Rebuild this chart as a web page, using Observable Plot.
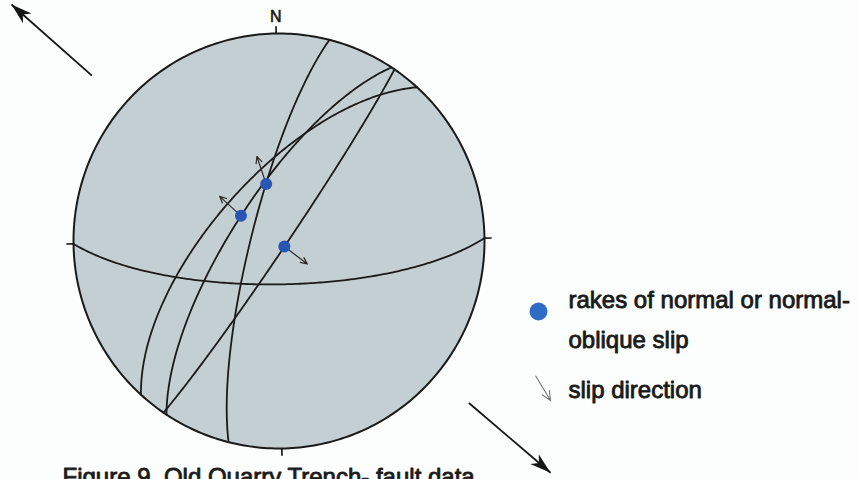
<!DOCTYPE html>
<html>
<head>
<meta charset="utf-8">
<script src="https://cdn.jsdelivr.net/npm/d3@7"></script>
<script src="https://cdn.jsdelivr.net/npm/@observablehq/plot@0.6"></script>
<style>
  html, body { margin: 0; padding: 0; background: #fcfdfd; }
  #chart svg { display: block; }
</style>
</head>
<body>
<div id="chart"></div>
<script>
// Fault planes: dip direction and dip (degrees)
const planeNames = ["A", "B", "C", "D", "E"];
const planeDipDirections = [180, 313, 304, 125, 285];
const planeDips = [73, 65, 72, 87, 79];

// Rakes of normal / normal-oblique slip, as lineations (trend / plunge)
const rakeTrends = [348, 304, 136];
const rakePlunges = [67, 72, 87];
// Slip direction shown at each rake (azimuth)
const slipAzimuths = [342, 313, 128];

// Regional extension direction (azimuths)
const extensionAzimuths = [312, 131];

const cardinalAzimuths = [0, 90, 180, 270];
const northLabel = "N";
const legendLabels = ["rakes of normal or normal-", "oblique slip", "slip direction"];
const captionText = "Figure 9. Old Quarry Trench- fault data";

// --- lower-hemisphere equal-area net -------------------------------------
const rad = Math.PI / 180;
const netRotation = -0.8; // the net is printed turned slightly anticlockwise

function polar(az, k) {
  const a = (az + netRotation) * rad;
  return [k * Math.sin(a), k * Math.cos(a)];
}
function project(trend, plunge) {
  return polar(trend, Math.SQRT2 * Math.sin(((90 - plunge) / 2) * rad));
}
function greatCircle(dd, dip) {
  const s = [Math.cos((dd - 90) * rad), Math.sin((dd - 90) * rad), 0];
  const d = [Math.cos(dip * rad) * Math.cos(dd * rad), Math.cos(dip * rad) * Math.sin(dd * rad), Math.sin(dip * rad)];
  const pts = [];
  for (let a = 0; a <= 180; a += 1) {
    const c = Math.cos(a * rad), sn = Math.sin(a * rad);
    const w = [c * s[0] + sn * d[0], c * s[1] + sn * d[1], Math.max(0, c * s[2] + sn * d[2])];
    const plunge = Math.asin(Math.min(1, w[2])) / rad;
    const trend = Math.atan2(w[1], w[0]) / rad;
    pts.push(project(trend, plunge));
  }
  return pts;
}

const primitive = d3.range(0, 361, 1).map(az => { const [u, v] = polar(az, 1); return {u, v}; });

const arcs = planeNames.flatMap((name, i) =>
  greatCircle(planeDipDirections[i], planeDips[i]).map(([u, v]) => ({plane: name, u, v})));

const ticks = cardinalAzimuths.map(az => {
  const [u1, v1] = polar(az, 1), [u2, v2] = polar(az, 1.035);
  return {u1, v1, u2, v2};
});

// each slip arrow starts a little behind its rake point
const slipLength = 0.14, slipTail = 0.02;
const rakes = rakeTrends.map((t, i) => {
  const [u, v] = project(t, rakePlunges[i]);
  const [du, dv] = polar(slipAzimuths[i], 1);
  return {u, v, u1: u - slipTail * du, v1: v - slipTail * dv, u2: u + slipLength * du, v2: v + slipLength * dv};
});

const extension = extensionAzimuths.map(az => {
  const [u1, v1] = polar(az, 1.21), [u2, v2] = polar(az, 1.73);
  return {u1, v1, u2, v2, angle: az + netRotation};
});

const [nu, nv] = polar(0, 1.082);

// filled, barbed arrowhead with its tip at the symbol origin, pointing up
const arrowHead = {
  draw(ctx, size) {
    const r = Math.sqrt(size / Math.PI), L = 2 * r, w = 0.62 * r;
    ctx.moveTo(0, 0); ctx.lineTo(w, L); ctx.lineTo(0, 0.72 * L); ctx.lineTo(-w, L); ctx.closePath();
  }
};
// open slip arrow with its tip at the symbol origin, pointing up
const slipGlyph = {
  draw(ctx, size) {
    const r = Math.sqrt(size / Math.PI), L = 2 * r;
    ctx.moveTo(0, L); ctx.lineTo(0, 0);
    ctx.moveTo(-0.3 * r, 0.65 * r); ctx.lineTo(0, 0); ctx.lineTo(0.3 * r, 0.65 * r);
  }
};

const ink = "#1a1a1a";
const textStyle = {fill: ink, stroke: ink, strokeWidth: 0.85, fontSize: 24, textAnchor: "start", lineAnchor: "bottom", frameAnchor: "top-left"};

const chart = Plot.plot({
  width: 858,
  height: 479,
  margin: 0,
  x: {domain: [-1, 1], range: [73, 484], axis: null},
  y: {domain: [-1, 1], range: [448, 33], axis: null},
  style: {background: "transparent", fontFamily: "'Liberation Sans', Arial, sans-serif"},
  marks: [
    Plot.line(primitive, {x: "u", y: "v", fill: "#c3cfd2", stroke: ink, strokeWidth: 2}),
    Plot.link(ticks, {x1: "u1", y1: "v1", x2: "u2", y2: "v2", stroke: ink, strokeWidth: 1.7}),
    Plot.line(arcs, {x: "u", y: "v", z: "plane", stroke: ink, strokeWidth: 1.8, curve: "linear"}),
    Plot.arrow(rakes, {x1: "u1", y1: "v1", x2: "u2", y2: "v2", stroke: "#2a2a2a", strokeWidth: 1.2, headLength: 9, headAngle: 50}),
    Plot.dot(rakes, {x: "u", y: "v", r: 6, fill: "#2756b4"}),
    Plot.link(extension, {x1: "u1", y1: "v1", x2: "u2", y2: "v2", stroke: "#151515", strokeWidth: 1.8}),
    Plot.dot(extension, {x: "u2", y: "v2", symbol: arrowHead, r: 10.5, rotate: "angle", fill: "#151515", stroke: "none"}),
    Plot.text([northLabel], {x: () => nu, y: () => nv, text: d => d, fill: ink, stroke: ink, strokeWidth: 0.6, fontSize: 16, textAnchor: "middle", lineAnchor: "middle"}),
    // legend
    Plot.dot([0], {frameAnchor: "top-left", dx: 538, dy: 311, r: 9, fill: "#2f6cc6"}),
    Plot.dot([0], {frameAnchor: "top-left", dx: 550, dy: 400, r: 14.5, symbol: slipGlyph, rotate: 149, fill: "none", stroke: "#6a6a6a", strokeWidth: 1}),
    Plot.text([legendLabels[0]], {...textStyle, dx: 568, dy: 307}),
    Plot.text([legendLabels[1]], {...textStyle, dx: 568, dy: 347}),
    Plot.text([legendLabels[2]], {...textStyle, dx: 568, dy: 397}),
    // caption, running off the lower edge of the page
    Plot.text([captionText], {...textStyle, dx: 62, dy: 484})
  ]
});

document.getElementById("chart").append(chart);
</script>
</body>
</html>
